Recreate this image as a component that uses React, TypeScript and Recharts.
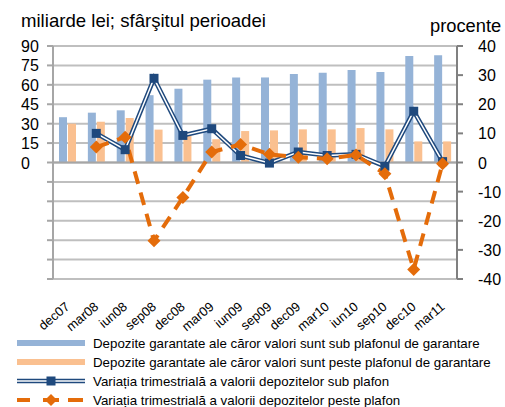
import React from 'react';
import {
  ComposedChart, Bar, Line, XAxis, YAxis, CartesianGrid, ReferenceLine,
} from 'recharts';

const categories = ['dec07', 'mar08', 'iun08', 'sep08', 'dec08', 'mar09', 'iun09', 'sep09', 'dec09', 'mar10', 'iun10', 'sep10', 'dec10', 'mar11'];
const depSub = [35, 38.5, 40.3, 52, 57, 64, 65.7, 65.7, 68.3, 69.3, 71.4, 70, 82.2, 82.8];
const depPeste = [30, 31.5, 34.4, 25.4, 21, 18, 24.3, 24.8, 25.6, 25.6, 26.6, 25.6, 16.3, 16.3];
const varSub: (number | null)[] = [null, 10, 4.4, 28.9, 9.3, 11.6, 2.4, -0.2, 3.6, 2.4, 2.8, -1.3, 17.6, 0.3];
const varPeste: (number | null)[] = [null, 5.3, 8.7, -26.9, -12, 3.6, 6.2, 2.8, 1.8, 1.3, 2.6, -3.9, -36.7, -0.4];
const leftTicks = [-90, -75, -60, -45, -30, -15, 0, 15, 30, 45, 60, 75, 90];
const rightTicks = [-40, -30, -20, -10, 0, 10, 20, 30, 40];
const legendLabels = [
  'Depozite garantate ale căror valori sunt sub plafonul de garantare',
  'Depozite garantate ale căror valori sunt peste plafonul de garantare',
  'Variația trimestrială a valorii depozitelor sub plafon',
  'Variația trimestrială a valorii depozitelor peste plafon',
];

const data = categories.map((c, i) => ({
  cat: c,
  sub: depSub[i],
  peste: depPeste[i],
  vSub: varSub[i],
  vPeste: varPeste[i],
}));

const FONT = '"Liberation Sans", Arial, sans-serif';
const BLUE_BAR = '#95B3D7';
const ORANGE_BAR = '#FAC090';
const BLUE = '#1F497D';
const ORANGE = '#E46C0A';
const GRID = '#BFBFBF';
const AXIS = '#A6A6A6';

const LeftTick = (props: any) => {
  const { y, payload } = props;
  if (payload.value < 0) return null;
  return (
    <text x={21} y={y} dy={6} fontSize={16} fontFamily={FONT} fill="#000" textAnchor="start">
      {payload.value}
    </text>
  );
};

const RightTick = (props: any) => {
  const { y, payload } = props;
  return (
    <text x={478} y={y} dy={6} fontSize={16} fontFamily={FONT} fill="#000" textAnchor="start">
      {payload.value}
    </text>
  );
};

const XTick = (props: any) => {
  const { x, payload } = props;
  const ax = x + 3;
  const ay = 308;
  return (
    <text x={ax} y={ay} fontSize={13} fontFamily={FONT} fill="#000" textAnchor="end"
      transform={`rotate(-40, ${ax}, ${ay})`}>
      {payload.value}
    </text>
  );
};

const SquareDot = (props: any) => {
  const { cx, cy, index } = props;
  if (cx == null || cy == null || props.value == null) return <g key={index} />;
  return <rect key={index} x={cx - 4.5} y={cy - 4.5} width={9} height={9} fill={BLUE} />;
};

const DiamondDot = (props: any) => {
  const { cx, cy, index } = props;
  if (cx == null || cy == null || props.value == null) return <g key={index} />;
  const r = 6.5;
  return (
    <path key={index} d={`M${cx},${cy - r} L${cx + r},${cy} L${cx},${cy + r} L${cx - r},${cy} Z`} fill={ORANGE} />
  );
};

const LegendRow = ({ i, top }: { i: number; top: number }) => {
  let swatch: React.ReactNode = null;
  if (i === 0) swatch = <rect x={0} y={6} width={68} height={6} fill={BLUE_BAR} />;
  if (i === 1) swatch = <rect x={0} y={6} width={68} height={6} fill={ORANGE_BAR} />;
  if (i === 2)
    swatch = (
      <g>
        <line x1={0} y1={9} x2={68} y2={9} stroke={BLUE} strokeWidth={4.5} />
        <line x1={0} y1={9} x2={68} y2={9} stroke="#fff" strokeWidth={1.5} />
        <rect x={29.5} y={4.5} width={9} height={9} fill={BLUE} />
      </g>
    );
  if (i === 3)
    swatch = (
      <g>
        <line x1={0} y1={9} x2={68} y2={9} stroke={ORANGE} strokeWidth={4} strokeDasharray="13 38 15" />
        <path d="M34,3 L40,9 L34,15 L28,9 Z" fill={ORANGE} />
        <line x1={26} y1={9} x2={42} y2={9} stroke={ORANGE} strokeWidth={4} />
      </g>
    );
  return (
    <div style={{ position: 'absolute', left: 17, top, height: 18, display: 'flex', alignItems: 'center' }}>
      <svg width={68} height={18} style={{ display: 'block' }}>{swatch}</svg>
      <span style={{ marginLeft: 8, fontSize: 13.3, fontFamily: FONT, color: '#000', whiteSpace: 'nowrap' }}>
        {legendLabels[i]}
      </span>
    </div>
  );
};

export default function App() {
  return (
    <div style={{ position: 'absolute', left: 0, top: 0, width: 505, height: 407, background: '#fff' }}>
      <ComposedChart
        width={505}
        height={407}
        data={data}
        margin={{ top: 46, right: 0, bottom: 0, left: 0 }}
        barGap={1}
      >
        <CartesianGrid yAxisId="left" vertical={false} stroke={GRID} strokeWidth={2} />
        <XAxis dataKey="cat" interval={0} axisLine={false} tickLine={false} height={128} tick={<XTick />} />
        <YAxis
          yAxisId="left"
          width={53}
          domain={[-90, 90]}
          ticks={leftTicks}
          interval={0}
          axisLine={{ stroke: AXIS, strokeWidth: 2 }}
          tickLine={{ stroke: AXIS, strokeWidth: 2 }}
          tickSize={6}
          tick={<LeftTick />}
        />
        <YAxis
          yAxisId="right"
          orientation="right"
          width={48}
          domain={[-40, 40]}
          ticks={rightTicks}
          interval={0}
          axisLine={{ stroke: '#808080', strokeWidth: 2 }}
          tickLine={{ stroke: '#808080', strokeWidth: 2 }}
          tickSize={6}
          tick={<RightTick />}
        />
        <ReferenceLine yAxisId="left" y={0} stroke={AXIS} strokeWidth={2} />
        <Bar yAxisId="left" dataKey="sub" fill={BLUE_BAR} barSize={8} isAnimationActive={false} />
        <Bar yAxisId="left" dataKey="peste" fill={ORANGE_BAR} barSize={8} isAnimationActive={false} />
        <Line yAxisId="right" dataKey="vSub" stroke={BLUE} strokeWidth={4.5} dot={false} activeDot={false} isAnimationActive={false} />
        <Line yAxisId="right" dataKey="vSub" stroke="#fff" strokeWidth={1.5} dot={<SquareDot />} activeDot={false} isAnimationActive={false} />
        <Line yAxisId="right" dataKey="vPeste" stroke={ORANGE} strokeWidth={4} strokeDasharray="13 9" dot={<DiamondDot />} activeDot={false} isAnimationActive={false} />
        <text x={21} y={27} fontSize={18.6} fontFamily={FONT} fill="#000">miliarde lei; sfârşitul perioadei</text>
        <text x={430} y={32} fontSize={18.3} fontFamily={FONT} fill="#000">procente</text>
      </ComposedChart>
      {[0, 1, 2, 3].map((i) => (
        <LegendRow key={i} i={i} top={334 + i * 19} />
      ))}
    </div>
  );
}
